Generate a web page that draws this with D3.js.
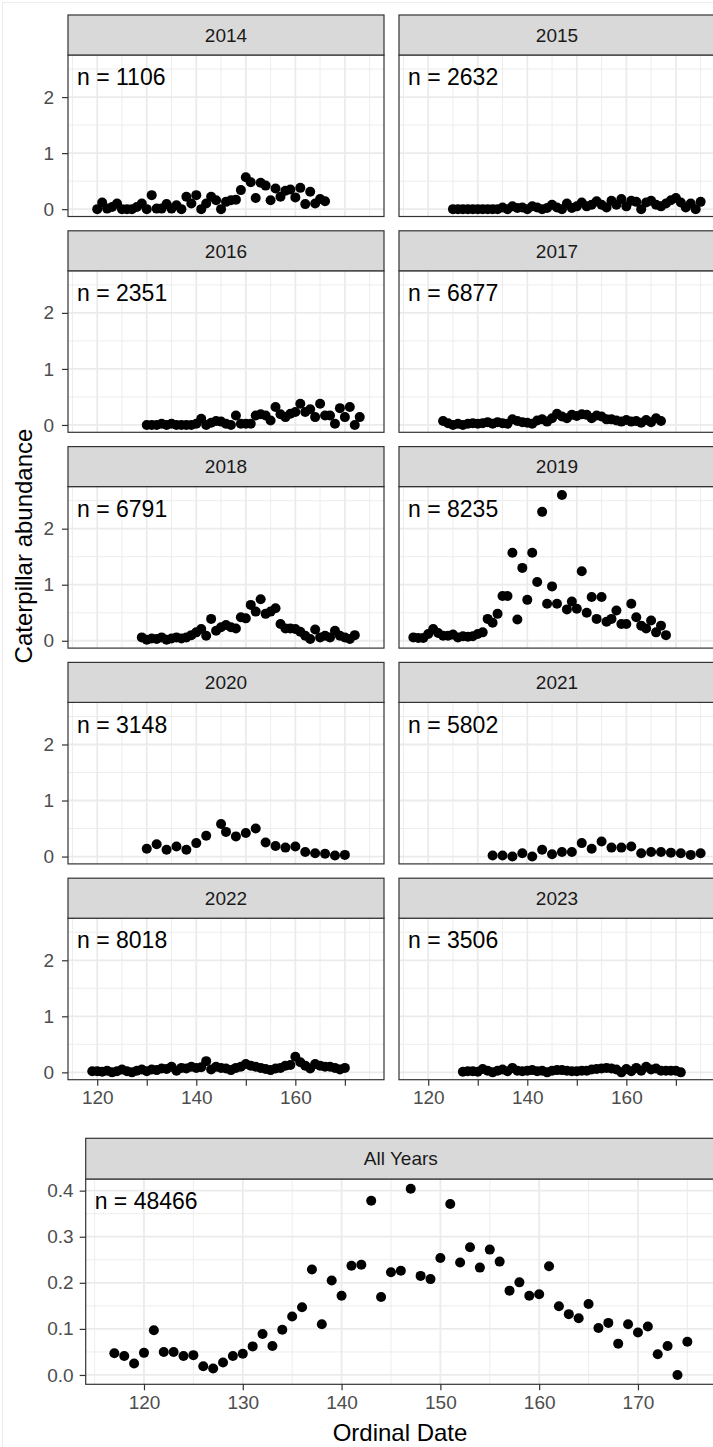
<!DOCTYPE html>
<html><head><meta charset="utf-8">
<script src="https://cdn.jsdelivr.net/npm/d3@7"></script>
<style>
body{margin:0;background:#fff}
svg{display:block;font-family:"Liberation Sans",Arial,Helvetica,sans-serif}
</style>
</head><body><svg id="c" width="713" height="1447"></svg>
<script>
// ---------------- DATA ----------------
const years = ["2014","2015","2016","2017","2018","2019","2020","2021","2022","2023"];
const sampleSizes = [1106, 2632, 2351, 6877, 6791, 8235, 3148, 5802, 8018, 3506];

const days2014 = d3.range(120, 167);
const abund2014 = [0.0,0.12,0.01,0.04,0.10,0.0,0.0,0.0,0.04,0.10,0.0,0.25,0.01,0.01,0.09,0.01,0.07,0.0,0.22,0.10,0.25,0.0,0.10,0.22,0.16,0.0,0.13,0.16,0.17,0.34,0.57,0.48,0.20,0.47,0.42,0.16,0.37,0.22,0.33,0.35,0.21,0.38,0.09,0.31,0.10,0.18,0.14];

const days2015 = d3.range(125, 176);
const abund2015 = [0,0,0,0,0,0,0,0,0,0,0.03,0.0,0.05,0.02,0.03,0.0,0.05,0.03,0.0,0.02,0.08,0.03,0.0,0.10,0.02,0.05,0.12,0.05,0.08,0.14,0.08,0.03,0.15,0.08,0.18,0.05,0.15,0.13,0.0,0.12,0.15,0.08,0.05,0.10,0.16,0.20,0.12,0.03,0.10,0.0,0.13];

const days2016 = d3.range(130, 174);
const abund2016 = [0,0,0,0.02,0,0.02,0,0,0,0,0.02,0.11,0,0.04,0.07,0.06,0.02,0,0.17,0.02,0.02,0.02,0.17,0.19,0.17,0.08,0.32,0.19,0.14,0.20,0.23,0.38,0.23,0.28,0.14,0.38,0.17,0.17,0.02,0.30,0.14,0.32,0.0,0.14];

const days2017 = d3.range(123, 168);
const abund2017 = [0.07,0.03,0.0,0.02,0.0,0.02,0.03,0.02,0.03,0.05,0.02,0.05,0.03,0.02,0.10,0.07,0.05,0.04,0.02,0.08,0.10,0.06,0.12,0.20,0.15,0.12,0.18,0.16,0.19,0.18,0.12,0.17,0.15,0.10,0.10,0.08,0.06,0.09,0.06,0.07,0.04,0.09,0.05,0.12,0.07];

const days2018 = d3.range(129, 173);
const abund2018 = [0.06,0.02,0.04,0.03,0.06,0.02,0.04,0.06,0.04,0.06,0.10,0.15,0.21,0.09,0.39,0.18,0.24,0.28,0.24,0.22,0.42,0.40,0.64,0.52,0.74,0.48,0.52,0.58,0.30,0.22,0.22,0.21,0.16,0.09,0.03,0.20,0.06,0.09,0.06,0.18,0.09,0.06,0.03,0.10];

const days2019 = d3.range(117, 169);
const abund2019 = [0.06,0.05,0.05,0.12,0.21,0.14,0.09,0.09,0.11,0.06,0.08,0.07,0.08,0.12,0.15,0.39,0.32,0.48,0.80,0.80,1.57,0.38,1.30,0.73,1.57,1.05,2.30,0.66,0.97,0.66,2.60,0.56,0.70,0.57,1.24,0.50,0.78,0.39,0.78,0.34,0.39,0.54,0.30,0.30,0.66,0.42,0.27,0.22,0.36,0.15,0.27,0.10];

const days2020 = [130,132,134,136,138,140,142,145,146,148,150,152,154,156,158,160,162,164,166,168,170];
const abund2020 = [0.14,0.22,0.12,0.18,0.12,0.24,0.37,0.58,0.44,0.36,0.42,0.50,0.25,0.19,0.16,0.18,0.08,0.06,0.05,0.02,0.03];

const days2021 = [133,135,137,139,141,143,145,147,149,151,153,155,157,159,161,163,165,167,169,171,173,175];
const abund2021 = [0.02,0.02,0.0,0.06,0.0,0.12,0.04,0.08,0.08,0.24,0.14,0.27,0.16,0.16,0.18,0.06,0.08,0.08,0.07,0.06,0.03,0.06];

const days2022 = d3.range(119, 171);
const abund2022 = [0.02,0.02,0.01,0.03,0.0,0.02,0.05,0.02,0.0,0.03,0.05,0.02,0.05,0.04,0.07,0.06,0.10,0.03,0.08,0.07,0.10,0.08,0.09,0.20,0.05,0.10,0.08,0.07,0.04,0.08,0.10,0.15,0.12,0.10,0.08,0.06,0.04,0.07,0.08,0.12,0.13,0.28,0.18,0.12,0.07,0.15,0.12,0.10,0.10,0.08,0.05,0.08];

const days2023 = d3.range(127, 172);
const abund2023 = [0.01,0.02,0.02,0.01,0.06,0.03,0.0,0.03,0.05,0.02,0.08,0.03,0.02,0.03,0.04,0.02,0.03,0.0,0.03,0.04,0.04,0.03,0.02,0.02,0.03,0.03,0.05,0.06,0.07,0.08,0.07,0.05,0.0,0.06,0.02,0.08,0.03,0.10,0.05,0.07,0.03,0.03,0.03,0.03,0.0];

const allDays = d3.range(117, 176);
const allAbund = [0.047,0.041,0.025,0.048,0.097,0.050,0.050,0.041,0.043,0.019,0.014,0.027,0.041,0.046,0.062,0.089,0.063,0.098,0.127,0.147,0.229,0.110,0.205,0.172,0.237,0.239,0.378,0.169,0.223,0.226,0.404,0.215,0.208,0.254,0.371,0.244,0.277,0.233,0.272,0.246,0.183,0.201,0.172,0.175,0.236,0.149,0.132,0.123,0.154,0.102,0.113,0.068,0.110,0.092,0.105,0.045,0.063,0.0,0.072];
const allN = 48466;

const xTicks = [120,130,140,150,160,170];
const xTickLabelsTop = [120,140,160];
const xMinor = [115,125,135,145,155,165,175];
const yTicksTop = [0,1,2];
const yMinorTop = [0.5,1.5,2.5];
const yTicksAll = [0,0.1,0.2,0.3,0.4];
const yMinorAll = [0.05,0.15,0.25,0.35];

const seriesDays = [days2014,days2015,days2016,days2017,days2018,days2019,days2020,days2021,days2022,days2023];
const seriesVals = [abund2014,abund2015,abund2016,abund2017,abund2018,abund2019,abund2020,abund2021,abund2022,abund2023];

// ---------------- DRAW ----------------
const svg = d3.select("#c");
svg.append("rect").attr("x",2.5).attr("y",2.5).attr("width",720).attr("height",1500)
  .attr("fill","none").attr("stroke","#ececec").attr("stroke-width",1);

const GRID = "#EBEBEB", BORDER = "#333333", STRIP = "#D9D9D9";
const TICKCOL = "#4D4D4D";

function panel(opts){
  const {x0, w, stripTop, stripH, panelH, label, xs, ys, yMaj, yMin, days, vals, n,
         showY, showX, xLabels, yFmt, tickFont, stripFont, nFont, yGap} = opts;
  const pTop = stripTop + stripH, pBot = pTop + panelH;
  const g = svg.append("g");
  const xScale = d3.scaleLinear().domain(xs).range([x0, x0 + w]);
  const yScale = d3.scaleLinear().domain(ys).range([pBot, pTop]);
  g.append("rect").attr("x",x0).attr("y",pTop).attr("width",w).attr("height",panelH).attr("fill","#fff");
  g.selectAll(".vmin").data(xMinor).join("line")
    .attr("x1",d=>xScale(d)).attr("x2",d=>xScale(d)).attr("y1",pTop).attr("y2",pBot)
    .attr("stroke",GRID).attr("stroke-width",0.9);
  g.selectAll(".hmin").data(yMin).join("line")
    .attr("y1",d=>yScale(d)).attr("y2",d=>yScale(d)).attr("x1",x0).attr("x2",x0+w)
    .attr("stroke",GRID).attr("stroke-width",0.9);
  g.selectAll(".vmaj").data(xTicks).join("line")
    .attr("x1",d=>xScale(d)).attr("x2",d=>xScale(d)).attr("y1",pTop).attr("y2",pBot)
    .attr("stroke",GRID).attr("stroke-width",1.8);
  g.selectAll(".hmaj").data(yMaj).join("line")
    .attr("y1",d=>yScale(d)).attr("y2",d=>yScale(d)).attr("x1",x0).attr("x2",x0+w)
    .attr("stroke",GRID).attr("stroke-width",1.8);
  g.selectAll("circle").data(days.map((d,i)=>[d, vals[i]])).join("circle")
    .attr("cx",d=>xScale(d[0])).attr("cy",d=>yScale(d[1])).attr("r",5).attr("fill","#000");
  g.append("text").attr("x",x0+9).attr("y",pTop+22).attr("dy","0.36em")
    .attr("font-size",nFont).attr("fill","#000").text("n = " + n);
  g.append("rect").attr("x",x0).attr("y",pTop).attr("width",w).attr("height",panelH)
    .attr("fill","none").attr("stroke",BORDER).attr("stroke-width",1.2);
  g.append("rect").attr("x",x0).attr("y",stripTop).attr("width",w).attr("height",stripH)
    .attr("fill",STRIP).attr("stroke",BORDER).attr("stroke-width",1.2);
  g.append("text").attr("x",x0 + w/2).attr("y",stripTop + stripH/2).attr("dy","0.36em")
    .attr("text-anchor","middle").attr("font-size",stripFont).attr("fill","#1A1A1A").text(label);
  if (showY){
    const ay = g.append("g").attr("transform",`translate(${x0},0)`)
      .call(d3.axisLeft(yScale).tickValues(yMaj).tickSize(6).tickPadding(yGap).tickFormat(yFmt));
    ay.select(".domain").remove();
    ay.selectAll("line").attr("stroke",BORDER).attr("stroke-width",1.2);
    ay.selectAll("text").attr("fill",TICKCOL).attr("font-size",tickFont).attr("font-family",null);
  }
  if (showX){
    const ax = g.append("g").attr("transform",`translate(0,${pBot})`)
      .call(d3.axisBottom(xScale).tickValues(xTicks).tickSize(6).tickPadding(5)
        .tickFormat(d => xLabels.includes(d) ? d : ""));
    ax.select(".domain").remove();
    ax.selectAll("line").attr("stroke",BORDER).attr("stroke-width",1.2);
    ax.selectAll("text").attr("fill",TICKCOL).attr("font-size",tickFont).attr("font-family",null);
  }
}

const colX = [68, 399], pw = 316, top0 = 15, pitch = 215.8, stripH = 40, panelH = 161.5;
const xDom = [114.1, 177.9];
const yDomTop = [-0.131, 2.751];

years.forEach((yr, i) => {
  const col = i % 2, row = Math.floor(i / 2);
  panel({
    x0: colX[col], w: pw, stripTop: top0 + row * pitch, stripH, panelH,
    label: yr, xs: xDom, ys: yDomTop, yMaj: yTicksTop, yMin: yMinorTop,
    days: seriesDays[i], vals: seriesVals[i], n: sampleSizes[i],
    showY: col === 0, showX: row === 4, xLabels: xTickLabelsTop,
    yFmt: d3.format("d"), tickFont: 19, stripFont: 19, nFont: 23, yGap: 8
  });
});

panel({
  x0: 85.7, w: 630.3, stripTop: 1138.3, stripH: 40.7, panelH: 205.3,
  label: "All Years", xs: xDom, ys: [-0.02025, 0.42525], yMaj: yTicksAll, yMin: yMinorAll,
  days: allDays, vals: allAbund, n: allN,
  showY: true, showX: true, xLabels: xTicks,
  yFmt: d3.format(".1f"), tickFont: 19, stripFont: 19, nFont: 23, yGap: 6
});

svg.append("text").attr("transform","translate(23,546) rotate(-90)")
  .attr("text-anchor","middle").attr("dy","0.36em").attr("font-size",24).attr("fill","#000")
  .text("Caterpillar abundance");
svg.append("text").attr("x",400).attr("y",1432).attr("dy","0.36em")
  .attr("text-anchor","middle").attr("font-size",24).attr("fill","#000").text("Ordinal Date");
</script>
</body></html>
